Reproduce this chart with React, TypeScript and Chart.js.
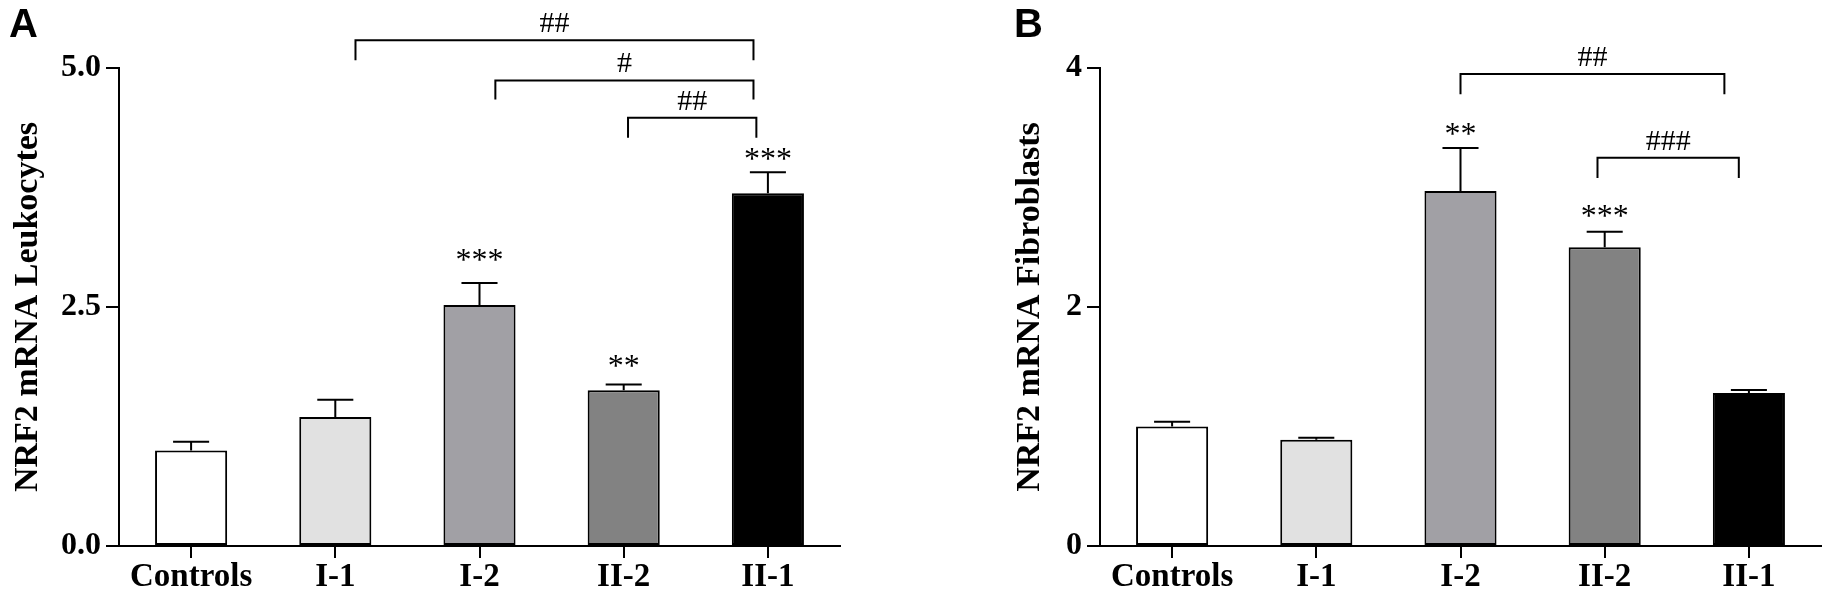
import React, { useRef, useEffect } from "react";
import { Chart, registerables, ChartConfiguration, Plugin } from "chart.js";

Chart.register(...registerables);

const categories = ["Controls", "I-1", "I-2", "II-2", "II-1"];
const barColors = ["#ffffff", "#e1e1e1", "#a1a0a5", "#828282", "#000000"];

// panel A - leukocytes
const leukMeans = [1.0, 1.35, 2.52, 1.63, 3.69];
const leukSem = [0.09, 0.18, 0.23, 0.06, 0.22];
const leukStars = ["", "", "***", "**", "***"];
const leukStarY = [0, 0, 3.04, 1.94, 4.1];
const leukTicks = [0, 2.5, 5];
// [from, to, level, drop, label]
const leukBrackets: [number, number, number, number, string][] = [
  [1.14, 3.9, 5.29, 5.08, "##"],
  [2.11, 3.9, 4.87, 4.67, "#"],
  [3.03, 3.92, 4.48, 4.27, "##"],
];

// panel B - fibroblasts
const fibMeans = [1.0, 0.89, 2.97, 2.5, 1.28];
const fibSem = [0.04, 0.015, 0.36, 0.13, 0.025];
const fibStars = ["", "", "**", "***", ""];
const fibStarY = [0, 0, 3.49, 2.8, 0];
const fibTicks = [0, 2, 4];
const fibBrackets: [number, number, number, number, string][] = [
  [2.0, 3.83, 3.95, 3.78, "##"],
  [2.95, 3.93, 3.25, 3.08, "###"],
];

const SERIF = "'Liberation Serif', 'Times New Roman', serif";

interface PanelProps {
  letter: string;
  letterX: number;
  left: number;
  width: number;
  axisWidth: number;
  titleOffset: number;
  title: string;
  means: number[];
  sem: number[];
  stars: string[];
  starY: number[];
  ticks: number[];
  decimals: number;
  brackets: [number, number, number, number, string][];
}

const Panel: React.FC<PanelProps> = (p) => {
  const chartRef = useRef<HTMLCanvasElement | null>(null);
  const chartInstanceRef = useRef<Chart | null>(null);

  useEffect(() => {
    if (!chartRef.current) return;
    const ctx = chartRef.current.getContext("2d");
    if (!ctx) return;
    if (chartInstanceRef.current) chartInstanceRef.current.destroy();

    const annotations: Plugin<"bar"> = {
      id: "annotations",
      afterDatasetsDraw(chart) {
        const c = chart.ctx;
        const xs = chart.scales.x;
        const ys = chart.scales.y;
        const meta = chart.getDatasetMeta(0);
        c.save();
        c.strokeStyle = "#000";
        c.fillStyle = "#000";
        c.lineWidth = 2;
        // error bars (upper half only)
        meta.data.forEach((bar: any, i) => {
          const top = ys.getPixelForValue(p.means[i] + p.sem[i]);
          const half = bar.width / 4;
          c.beginPath();
          c.moveTo(bar.x, bar.y);
          c.lineTo(bar.x, top);
          c.moveTo(bar.x - half, top);
          c.lineTo(bar.x + half, top);
          c.stroke();
        });
        // significance stars
        c.font = `32px ${SERIF}`;
        c.textAlign = "center";
        c.textBaseline = "alphabetic";
        p.stars.forEach((s, i) => {
          if (!s) return;
          c.fillText(s, xs.getPixelForValue(i), ys.getPixelForValue(p.starY[i]) + 15);
        });
        // brackets
        c.font = `30px ${SERIF}`;
        p.brackets.forEach(([from, to, level, drop, label]) => {
          const x1 = xs.getPixelForValue(from);
          const x2 = xs.getPixelForValue(to);
          const yl = ys.getPixelForValue(level);
          const yd = ys.getPixelForValue(drop);
          c.beginPath();
          c.moveTo(x1, yd);
          c.lineTo(x1, yl);
          c.lineTo(x2, yl);
          c.lineTo(x2, yd);
          c.stroke();
          c.fillText(label, (x1 + x2) / 2, yl - 8);
        });
        // panel letter
        c.font = "bold 40px 'Liberation Sans', Arial, sans-serif";
        c.textAlign = "left";
        c.fillText(p.letter, p.letterX, 37);
        c.restore();
      },
    };

    const config: ChartConfiguration<"bar"> = {
      type: "bar",
      data: {
        labels: categories,
        datasets: [
          {
            data: p.means,
            backgroundColor: barColors,
            borderColor: "#000",
            borderWidth: 2,
            borderSkipped: false,
            barPercentage: 0.5,
            categoryPercentage: 1.0,
          },
        ],
      },
      options: {
        animation: false,
        responsive: false,
        devicePixelRatio: 1,
        layout: { padding: { left: 0, right: p.width - p.axisWidth - 721, top: 68, bottom: 0 } },
        plugins: { legend: { display: false }, tooltip: { enabled: false } },
        scales: {
          x: {
            type: "category",
            offset: true,
            afterFit: (s) => {
              s.height = 48;
            },
            grid: { offset: false, drawOnChartArea: false, tickLength: 12, lineWidth: 2, color: "#000" },
            border: { color: "#000", width: 2 },
            ticks: {
              color: "#000",
              padding: 0,
              maxRotation: 0,
              autoSkip: false,
              font: { family: SERIF, size: 33, weight: "bold" },
            },
          },
          y: {
            min: 0,
            max: p.ticks[p.ticks.length - 1],
            afterFit: (s) => {
              s.width = p.axisWidth;
            },
            afterBuildTicks: (s) => {
              s.ticks = p.ticks.map((v) => ({ value: v }));
            },
            grid: { drawOnChartArea: false, tickLength: 13, lineWidth: 2, color: "#000" },
            border: { color: "#000", width: 2 },
            ticks: {
              color: "#000",
              padding: 5,
              font: { family: SERIF, size: 32, weight: "bold" },
              callback: (v) => Number(v).toFixed(p.decimals),
            },
            title: {
              display: true,
              text: p.title,
              color: "#000",
              padding: { top: p.titleOffset - 20.4, bottom: 0 },
              font: { family: SERIF, size: 34, weight: "bold" },
            },
          },
        },
      },
      plugins: [annotations],
    };

    chartInstanceRef.current = new Chart(ctx, config);
    return () => {
      if (chartInstanceRef.current) {
        chartInstanceRef.current.destroy();
        chartInstanceRef.current = null;
      }
    };
  }, [p]);

  return (
    <canvas
      ref={chartRef}
      width={p.width}
      height={594}
      style={{ position: "absolute", left: p.left, top: 0 }}
    ></canvas>
  );
};

const panelA: PanelProps = {
  letter: "A",
  letterX: 9,
  left: 0,
  width: 860,
  axisWidth: 119,
  titleOffset: 28,
  title: "NRF2 mRNA Leukocytes",
  means: leukMeans,
  sem: leukSem,
  stars: leukStars,
  starY: leukStarY,
  ticks: leukTicks,
  decimals: 1,
  brackets: leukBrackets,
};

const panelB: PanelProps = {
  letter: "B",
  letterX: 154,
  left: 860,
  width: 963,
  axisWidth: 240,
  titleOffset: 170,
  title: "NRF2 mRNA Fibroblasts",
  means: fibMeans,
  sem: fibSem,
  stars: fibStars,
  starY: fibStarY,
  ticks: fibTicks,
  decimals: 0,
  brackets: fibBrackets,
};

export default function App() {
  return (
    <div style={{ position: "absolute", left: 0, top: 0, width: 1823, height: 594, background: "#fff" }}>
      <Panel {...panelA} />
      <Panel {...panelB} />
    </div>
  );
}
